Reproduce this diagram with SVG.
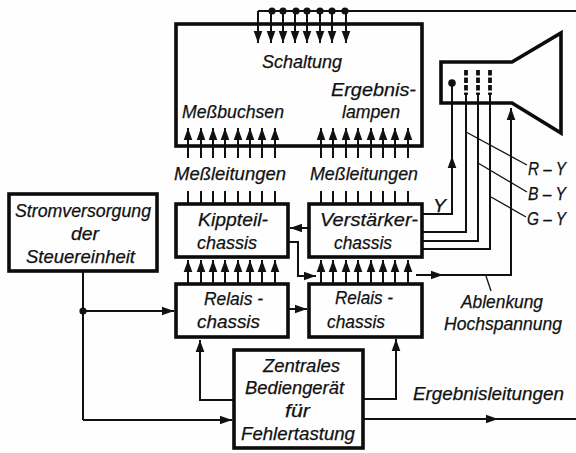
<svg xmlns="http://www.w3.org/2000/svg" width="576" height="453" viewBox="0 0 576 453">
<style>
.b{fill:none;stroke:#0c0c0c;stroke-width:3.6}
.c path,.c line,.c polyline{fill:none;stroke:#111;stroke-width:2}
.k{fill:#111}
.l{stroke:#222;stroke-width:1.3;fill:none}
text{font-family:"Liberation Sans",Arial,sans-serif;font-style:italic;font-size:19px;fill:#111;stroke:#111;stroke-width:.25}
</style>
<defs>
<marker id="a" markerUnits="userSpaceOnUse" markerWidth="13" markerHeight="10" refX="12" refY="5" orient="auto"><path d="M0 0.7L12 5L0 9.3Z" fill="#111"/></marker>
</defs>
<rect width="576" height="453" fill="#fefefe"/>
<g id="connectors" class="c">
<path d="M258 11H576"/>
<line x1="258" y1="11" x2="258" y2="43" marker-end="url(#a)"/><line x1="271" y1="11" x2="271" y2="43" marker-end="url(#a)"/><line x1="283" y1="11" x2="283" y2="43" marker-end="url(#a)"/><line x1="295" y1="11" x2="295" y2="43" marker-end="url(#a)"/><line x1="307" y1="11" x2="307" y2="43" marker-end="url(#a)"/><line x1="320" y1="11" x2="320" y2="43" marker-end="url(#a)"/><line x1="332" y1="11" x2="332" y2="43" marker-end="url(#a)"/><line x1="346" y1="11" x2="346" y2="43" marker-end="url(#a)"/>
<circle class="k" cx="272" cy="11" r="3.6"/><circle class="k" cx="283" cy="11" r="3.6"/><circle class="k" cx="296" cy="11" r="3.6"/><circle class="k" cx="307" cy="11" r="3.6"/><circle class="k" cx="320" cy="11" r="3.6"/><circle class="k" cx="332" cy="11" r="3.6"/><circle class="k" cx="345" cy="11" r="3.6"/>
<line x1="188" y1="158" x2="188" y2="128" marker-end="url(#a)"/><line x1="201" y1="158" x2="201" y2="128" marker-end="url(#a)"/><line x1="213" y1="158" x2="213" y2="128" marker-end="url(#a)"/><line x1="225" y1="158" x2="225" y2="128" marker-end="url(#a)"/><line x1="238" y1="158" x2="238" y2="128" marker-end="url(#a)"/><line x1="250" y1="158" x2="250" y2="128" marker-end="url(#a)"/><line x1="262" y1="158" x2="262" y2="128" marker-end="url(#a)"/><line x1="275" y1="158" x2="275" y2="128" marker-end="url(#a)"/>
<line x1="321" y1="158" x2="321" y2="128" marker-end="url(#a)"/><line x1="333" y1="158" x2="333" y2="128" marker-end="url(#a)"/><line x1="346" y1="158" x2="346" y2="128" marker-end="url(#a)"/><line x1="358" y1="158" x2="358" y2="128" marker-end="url(#a)"/><line x1="371" y1="158" x2="371" y2="128" marker-end="url(#a)"/><line x1="383" y1="158" x2="383" y2="128" marker-end="url(#a)"/><line x1="395" y1="158" x2="395" y2="128" marker-end="url(#a)"/><line x1="408" y1="158" x2="408" y2="128" marker-end="url(#a)"/>
<path d="M188 191V204M201 191V204M213 191V204M225 191V204M238 191V204M250 191V204M262 191V204M275 191V204M321 191V204M333 191V204M346 191V204M358 191V204M371 191V204M383 191V204M395 191V204M408 191V204"/>
<line x1="188" y1="284" x2="188" y2="260" marker-end="url(#a)"/><line x1="201" y1="284" x2="201" y2="260" marker-end="url(#a)"/><line x1="213" y1="284" x2="213" y2="260" marker-end="url(#a)"/><line x1="225" y1="284" x2="225" y2="260" marker-end="url(#a)"/><line x1="238" y1="284" x2="238" y2="260" marker-end="url(#a)"/><line x1="250" y1="284" x2="250" y2="260" marker-end="url(#a)"/><line x1="262" y1="284" x2="262" y2="260" marker-end="url(#a)"/><line x1="275" y1="284" x2="275" y2="260" marker-end="url(#a)"/>
<line x1="321" y1="284" x2="321" y2="260" marker-end="url(#a)"/><line x1="333" y1="284" x2="333" y2="260" marker-end="url(#a)"/><line x1="346" y1="284" x2="346" y2="260" marker-end="url(#a)"/><line x1="358" y1="284" x2="358" y2="260" marker-end="url(#a)"/><line x1="371" y1="284" x2="371" y2="260" marker-end="url(#a)"/><line x1="383" y1="284" x2="383" y2="260" marker-end="url(#a)"/><line x1="395" y1="284" x2="395" y2="260" marker-end="url(#a)"/><line x1="408" y1="284" x2="408" y2="260" marker-end="url(#a)"/>
<line x1="309" y1="228" x2="290" y2="228" marker-end="url(#a)"/>
<polyline points="288,242 298,242 298,276 316,276" marker-end="url(#a)"/>
<line x1="288" y1="309" x2="307" y2="309" marker-end="url(#a)"/>
<path d="M83 271V420"/>
<line x1="83" y1="311" x2="174" y2="311" marker-end="url(#a)"/>
<circle class="k" cx="83" cy="311" r="3.6"/>
<line x1="83" y1="420" x2="232" y2="420" marker-end="url(#a)"/>
<polyline points="234,400 200,400 200,340" marker-end="url(#a)"/>
<polyline points="363,399 396,399 396,339" marker-end="url(#a)"/>
<line x1="363" y1="419" x2="498" y2="419" marker-end="url(#a)"/><path d="M498 419H576"/>
<polyline points="422,214 452,214 452,155"/>
<line x1="452" y1="175" x2="452" y2="156" marker-end="url(#a)"/>
<path d="M452 155V86"/>
<polyline points="422,232 466,232 466,95"/>
<polyline points="422,241 478,241 478,95"/>
<polyline points="422,249 490,249 490,95"/>
<line x1="416" y1="275" x2="443" y2="275" marker-end="url(#a)"/>
<polyline points="443,275 511,275 511,108"/>
<line x1="511" y1="125" x2="511" y2="108" marker-end="url(#a)"/>
<path class="l" style="stroke-width:1.3" d="M466 132L527 165M478 163L527 192M491 197L526 217M486 276L491 291"/>
</g>
<g id="schaltung"><rect class="b" x="176" y="24" width="246" height="122"/>
<text x="262" y="68" textLength="80" lengthAdjust="spacingAndGlyphs">Schaltung</text>
<text x="331" y="96" textLength="85" lengthAdjust="spacingAndGlyphs">Ergebnis-</text>
<text x="342" y="118" textLength="58" lengthAdjust="spacingAndGlyphs">lampen</text>
<text x="182" y="118" textLength="102" lengthAdjust="spacingAndGlyphs">Meßbuchsen</text></g>
<g id="messleitungen1"><text x="174" y="180" textLength="112" lengthAdjust="spacingAndGlyphs">Meßleitungen</text></g>
<g id="messleitungen2"><text x="310" y="180" textLength="108" lengthAdjust="spacingAndGlyphs">Meßleitungen</text></g>
<g id="kippteil"><rect class="b" x="176" y="204" width="112" height="53"/>
<text x="198" y="226" textLength="70" lengthAdjust="spacingAndGlyphs">Kippteil-</text>
<text x="197" y="249" textLength="60" lengthAdjust="spacingAndGlyphs">chassis</text></g>
<g id="verstaerker"><rect class="b" x="309" y="204" width="113" height="53"/>
<text x="320" y="226" textLength="98" lengthAdjust="spacingAndGlyphs">Verstärker-</text>
<text x="334" y="249" textLength="58" lengthAdjust="spacingAndGlyphs">chassis</text></g>
<g id="relais1"><rect class="b" x="176" y="284" width="112" height="53"/>
<text x="204" y="305" textLength="59" lengthAdjust="spacingAndGlyphs">Relais -</text>
<text x="197" y="328" textLength="63" lengthAdjust="spacingAndGlyphs">chassis</text></g>
<g id="relais2"><rect class="b" x="309" y="284" width="113" height="53"/>
<text x="335" y="304" textLength="58" lengthAdjust="spacingAndGlyphs">Relais -</text>
<text x="327" y="328" textLength="58" lengthAdjust="spacingAndGlyphs">chassis</text></g>
<g id="stromversorgung"><rect class="b" x="9" y="194" width="148" height="77"/>
<text x="15" y="217" textLength="136" lengthAdjust="spacingAndGlyphs">Stromversorgung</text>
<text x="71" y="240" textLength="28" lengthAdjust="spacingAndGlyphs">der</text>
<text x="26" y="263" textLength="109" lengthAdjust="spacingAndGlyphs">Steuereinheit</text></g>
<g id="zentral"><rect class="b" x="234" y="350" width="129" height="98"/>
<text x="263" y="372" textLength="77" lengthAdjust="spacingAndGlyphs">Zentrales</text>
<text x="245" y="394" textLength="99" lengthAdjust="spacingAndGlyphs">Bediengerät</text>
<text x="285" y="417" textLength="25" lengthAdjust="spacingAndGlyphs">für</text>
<text x="241" y="440" textLength="114" lengthAdjust="spacingAndGlyphs">Fehlertastung</text></g>
<g id="crt"><path class="b" d="M441 62H512L561 33V133L512 103H441Z"/>
<circle cx="452" cy="83" r="3.8" fill="#111"/>
<path d="M466 70V95M478 70V95M490 70V95" stroke="#111" stroke-width="3.8" stroke-dasharray="5.5 2" fill="none"/></g>
<text x="433" y="212" textLength="13" lengthAdjust="spacingAndGlyphs">Y</text>
<text x="528" y="175" textLength="38" lengthAdjust="spacingAndGlyphs">R – Y</text>
<text x="528" y="200" textLength="38" lengthAdjust="spacingAndGlyphs">B – Y</text>
<text x="527" y="225" textLength="39" lengthAdjust="spacingAndGlyphs">G – Y</text>
<text x="461" y="308" textLength="82" lengthAdjust="spacingAndGlyphs">Ablenkung</text>
<text x="444" y="330" textLength="118" lengthAdjust="spacingAndGlyphs">Hochspannung</text>
<text x="413" y="400" textLength="151" lengthAdjust="spacingAndGlyphs">Ergebnisleitungen</text>
</svg>
